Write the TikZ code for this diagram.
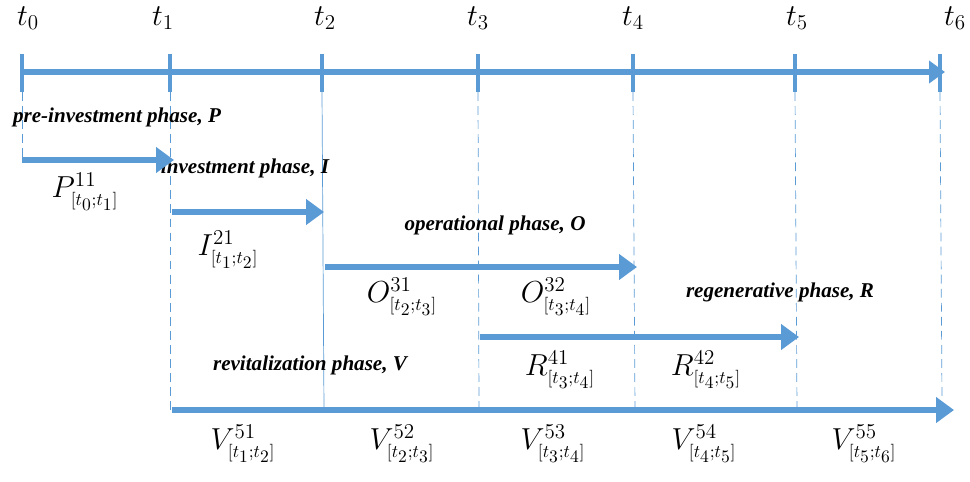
\documentclass[tikz,border=0pt]{standalone}
\usepackage{amsmath}
\usepackage{fontspec}
\setmainfont{Liberation Serif}
\usepackage{xcolor}
\usepackage{tikz}
\usetikzlibrary{arrows.meta,positioning,calc}
\definecolor{phaseblue}{HTML}{5B9BD5}
\tikzset{
  axisline/.style={-{Triangle[length=3.2mm,width=4.4mm]},line width=3.4pt,draw=phaseblue},
  phasearrow/.style={-{Triangle[length=3.6mm,width=5mm]},line width=3.4pt,draw=phaseblue},
  tickmark/.style={line width=2.4pt,draw=phaseblue},
  guide/.style={thin,dashed,draw=phaseblue,dash pattern=on 5pt off 3pt},
  guidesolid/.style={thin,draw=phaseblue},
  phaselabel/.style={font=\large\bfseries\itshape,inner sep=1pt},
  timelabel/.style={font=\LARGE,inner sep=1pt},
  parlabel/.style={font=\LARGE,inner sep=1pt}
}

\begin{document}
\begin{tikzpicture}[x=0.02cm,y=-0.02cm]
  \useasboundingbox (0,0) rectangle (970,481);
  % time axis
  \coordinate (a0) at (22,72);
  \coordinate (a6) at (945,72);
  \draw[axisline] (a0) -- (a6);
  \foreach \n/\x in {0/22,1/170,2/322,3/478,4/633,5/795,6/940} {
    \coordinate (top\n) at (\x,54);
    \coordinate (bot\n) at (\x,92);
    \draw[tickmark] (top\n) -- (bot\n);
  }
  \foreach \n/\x in {0/28,1/163,2/325,3/478,4/633,5/797,6/955}
    \node[timelabel] (t\n) at (\x,18) {$t_{\n}$};
  % guide lines
  \coordinate (g0) at (22,160);
  \coordinate (g1) at (170,410);
  \coordinate (g2) at (324,410);
  \coordinate (g3) at (479,410);
  \coordinate (g4) at (635,410);
  \coordinate (g5) at (797,410);
  \coordinate (g6) at (942,400);
  \draw[guide] (bot0) -- (g0);
  \draw[guide] (bot1) -- (g1);
  \draw[guidesolid] (bot2) -- (g2);
  \draw[guide] (bot3) -- (g3);
  \draw[guide] (bot4) -- (g4);
  \draw[guide] (bot5) -- (g5);
  \draw[guide] (bot6) -- (g6);
  % phases
  \node[phaselabel] (plab) at (117,117) {pre-investment phase, P};
  \node[phaselabel] (ilab) at (245,168) {investment phase, I};
  \node[phaselabel] (olab) at (495,225) {operational phase, O};
  \node[phaselabel] (rlab) at (780,292) {regenerative phase, R};
  \node[phaselabel] (vlab) at (310,365) {revitalization phase, V};
  \coordinate (ps) at (22,160);  \coordinate (pe) at (174,160);
  \coordinate (is) at (172,212); \coordinate (ie) at (324,212);
  \coordinate (os) at (325,267); \coordinate (oe) at (637,267);
  \coordinate (rs) at (480,337); \coordinate (re) at (799,337);
  \coordinate (vs) at (172,410); \coordinate (ve) at (954,410);
  \draw[phasearrow] (ps) -- (pe);
  \draw[phasearrow] (is) -- (ie);
  \draw[phasearrow] (os) -- (oe);
  \draw[phasearrow] (rs) -- (re);
  \draw[phasearrow] (vs) -- (ve);
  % sub-phase labels
  \node[parlabel] (p11) at (85,192) {$P^{11}_{\scriptscriptstyle[t_0;t_1]}$};
  \node[parlabel] (i21) at (228,250) {$I^{21}_{\scriptscriptstyle[t_1;t_2]}$};
  \node[parlabel] (o31) at (402,297) {$O^{31}_{\scriptscriptstyle[t_2;t_3]}$};
  \node[parlabel] (o32) at (556,297) {$O^{32}_{\scriptscriptstyle[t_3;t_4]}$};
  \node[parlabel] (r41) at (560,370) {$R^{41}_{\scriptscriptstyle[t_3;t_4]}$};
  \node[parlabel] (r42) at (706,370) {$R^{42}_{\scriptscriptstyle[t_4;t_5]}$};
  \node[parlabel] (v51) at (243,444) {$V^{51}_{\scriptscriptstyle[t_1;t_2]}$};
  \node[parlabel] (v52) at (402,444) {$V^{52}_{\scriptscriptstyle[t_2;t_3]}$};
  \node[parlabel] (v53) at (553,444) {$V^{53}_{\scriptscriptstyle[t_3;t_4]}$};
  \node[parlabel] (v54) at (704,444) {$V^{54}_{\scriptscriptstyle[t_4;t_5]}$};
  \node[parlabel] (v55) at (864,444) {$V^{55}_{\scriptscriptstyle[t_5;t_6]}$};
\end{tikzpicture}
\end{document}
